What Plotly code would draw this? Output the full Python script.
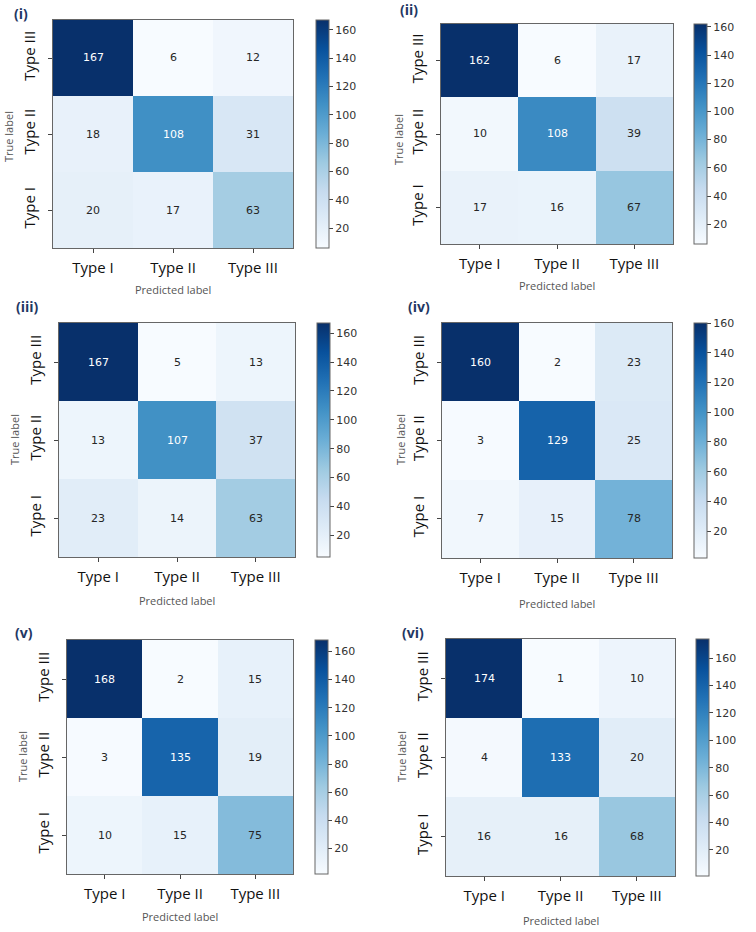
import plotly.graph_objects as go

# ---- data ----
pred_labels = ["Type I", "Type II", "Type III"]
true_labels_top_to_bottom = ["Type III", "Type II", "Type I"]
panel_names = ["(i)", "(ii)", "(iii)", "(iv)", "(v)", "(vi)"]

cm_i = [[167, 6, 12], [18, 108, 31], [20, 17, 63]]
cm_ii = [[162, 6, 17], [10, 108, 39], [17, 16, 67]]
cm_iii = [[167, 5, 13], [13, 107, 37], [23, 14, 63]]
cm_iv = [[160, 2, 23], [3, 129, 25], [7, 15, 78]]
cm_v = [[168, 2, 15], [3, 135, 19], [10, 15, 75]]
cm_vi = [[174, 1, 10], [4, 133, 20], [16, 16, 68]]
matrices = [cm_i, cm_ii, cm_iii, cm_iv, cm_v, cm_vi]
cbar_ticks = [20, 40, 60, 80, 100, 120, 140, 160]

# ---- layout (page pixels) ----
W, H = 756, 932
panels = [
    dict(box=(53, 293, 20, 248), cb=316, lab=(12, 13), tl=(8, 137), pl=290),
    dict(box=(441, 673, 24, 244), cb=694, lab=(398, 10), tl=(398, 140), pl=285),
    dict(box=(59, 295, 323, 557), cb=317, lab=(14, 307), tl=(14, 440), pl=600),
    dict(box=(442, 672, 323, 558), cb=694, lab=(406, 307), tl=(400, 440), pl=603),
    dict(box=(67, 293, 640, 874), cb=315, lab=(13, 632), tl=(22, 757), pl=916),
    dict(box=(446, 675, 639, 876), cb=696, lab=(400, 632), tl=(401, 757), pl=920),
]


def px_x(v):
    return v / W


def px_y(v):
    return 1 - v / H


blues = [
    [0.0, "#f7fbff"], [0.125, "#deebf7"], [0.25, "#c6dbef"], [0.375, "#9ecae1"],
    [0.5, "#6baed6"], [0.625, "#4292c6"], [0.75, "#2171b5"], [0.875, "#08519c"],
    [1.0, "#08306b"],
]

fig = go.Figure()
annotations = []
layout_axes = {}

for k, (cm, p, name) in enumerate(zip(matrices, panels, panel_names)):
    idx = "" if k == 0 else str(k + 1)
    xa, ya = "x" + idx, "y" + idx
    x0, x1, y0, y1 = p["box"]
    zmin = min(min(r) for r in cm)
    zmax = max(max(r) for r in cm)
    fig.add_trace(go.Heatmap(
        z=cm, x=pred_labels, y=true_labels_top_to_bottom,
        xaxis=xa, yaxis=ya, colorscale=blues, zmin=zmin, zmax=zmax,
        hoverinfo="skip",
        colorbar=dict(
            x=px_x(p["cb"]), xanchor="left", xpad=0, ypad=0,
            y=(px_y(y0) + px_y(y1)) / 2, yanchor="middle",
            len=(y1 - y0) / H, lenmode="fraction",
            thickness=13, thicknessmode="pixels",
            outlinewidth=1, outlinecolor="#666666",
            ticks="outside", ticklen=4, tickcolor="#444444",
            tickvals=cbar_ticks,
            tickfont=dict(size=11, family="DejaVu Sans", color="#333333"),
        ),
    ))
    thr = (zmin + zmax) / 2
    for ri, row in enumerate(cm):
        for ci, v in enumerate(row):
            annotations.append(dict(
                x=pred_labels[ci], y=true_labels_top_to_bottom[ri],
                xref=xa, yref=ya, text=str(v), showarrow=False,
                font=dict(size=11, family="DejaVu Sans",
                          color="#ffffff" if v > thr else "#262626"),
            ))
    axis_common = dict(
        showline=True, mirror=True, linecolor="#666666", linewidth=1,
        ticks="outside", ticklen=4, tickcolor="#444444",
        showgrid=False, zeroline=False, fixedrange=True,
        tickfont=dict(size=15, family="Open Sans", color="#111111"),
    )
    layout_axes["xaxis" + idx] = dict(
        axis_common, domain=[px_x(x0), px_x(x1)], anchor=ya,
        ticklabelstandoff=2,
    )
    layout_axes["yaxis" + idx] = dict(
        axis_common, domain=[px_y(y1), px_y(y0)], anchor=xa,
        autorange="reversed", tickangle=-90, ticklabelstandoff=7,
    )
    # panel label
    lx, ly = p["lab"]
    annotations.append(dict(
        x=px_x(lx), y=px_y(ly), xref="paper", yref="paper", text="<b>" + name + "</b>",
        showarrow=False, xanchor="left", yanchor="middle",
        font=dict(size=14, family="Open Sans", color="#1f3864"),
    ))
    # axis titles
    tx, ty = p["tl"]
    annotations.append(dict(
        x=px_x(tx), y=px_y(ty), xref="paper", yref="paper", text="True label",
        showarrow=False, textangle=-90, xanchor="center", yanchor="middle",
        font=dict(size=11, family="Open Sans", color="#555555"),
    ))
    annotations.append(dict(
        x=(px_x(x0) + px_x(x1)) / 2, y=px_y(p["pl"]), xref="paper", yref="paper",
        text="Predicted label", showarrow=False, xanchor="center", yanchor="middle",
        font=dict(size=11, family="Open Sans", color="#555555"),
    ))

fig.update_layout(
    width=W, height=H, margin=dict(l=0, r=0, t=0, b=0),
    paper_bgcolor="white", plot_bgcolor="white",
    showlegend=False, annotations=annotations, **layout_axes,
)

fig.write_html(
    "out.html",
    config={"displayModeBar": False},
    post_script="document.body.style.margin='0';document.body.style.overflow='hidden';",
)
